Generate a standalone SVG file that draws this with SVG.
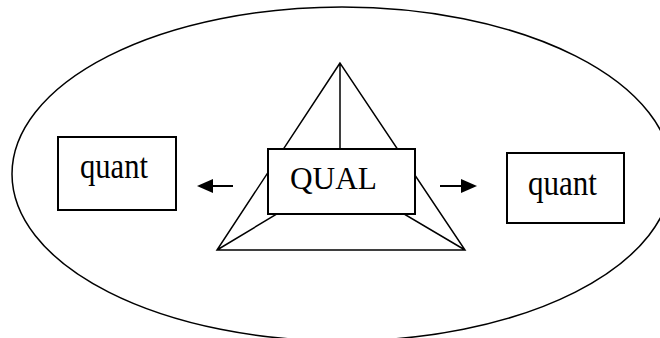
<svg xmlns="http://www.w3.org/2000/svg" width="660" height="338" viewBox="0 0 660 338">
<style>
.line{fill:none;stroke:#000;stroke-width:1.5}
.box{fill:#fff;stroke:#000;stroke-width:2}
.lbl{font-family:"Liberation Serif","Times New Roman",serif;fill:#000}
.arrow{fill:none;stroke:#000;stroke-width:2}
</style>
<defs>
<marker id="head" viewBox="0 -7 16 14" markerWidth="16" markerHeight="14" refX="0" refY="0" orient="auto" markerUnits="userSpaceOnUse">
<path d="M0,-7 L16,0 L0,7 z" fill="#000"/>
</marker>
</defs>
<rect width="660" height="338" fill="#fff"/>
<g id="boundary">
<ellipse class="line" cx="342" cy="174" rx="330" ry="167"/>
</g>
<g id="pyramid">
<path class="line" d="M340,63 L217,250 L465,250 Z M340,63 L340,176 M217,250 L340,176 L465,250"/>
</g>
<g id="qual">
<rect class="box" x="268" y="149" width="147" height="65"/>
<text class="lbl" x="290" y="189" font-size="31" textLength="87" lengthAdjust="spacingAndGlyphs">QUAL</text>
</g>
<g id="quant-left">
<rect class="box" x="58" y="137" width="118" height="73"/>
<text class="lbl" x="80" y="178" font-size="35" textLength="68" lengthAdjust="spacingAndGlyphs">quant</text>
</g>
<g id="quant-right">
<rect class="box" x="507" y="153" width="117" height="70"/>
<text class="lbl" x="528" y="195" font-size="35" textLength="69" lengthAdjust="spacingAndGlyphs">quant</text>
</g>
<g id="connectors">
<path class="arrow" d="M233,186 L213,186" marker-end="url(#head)"/>
<path class="arrow" d="M440,186 L461,186" marker-end="url(#head)"/>
</g>
</svg>
